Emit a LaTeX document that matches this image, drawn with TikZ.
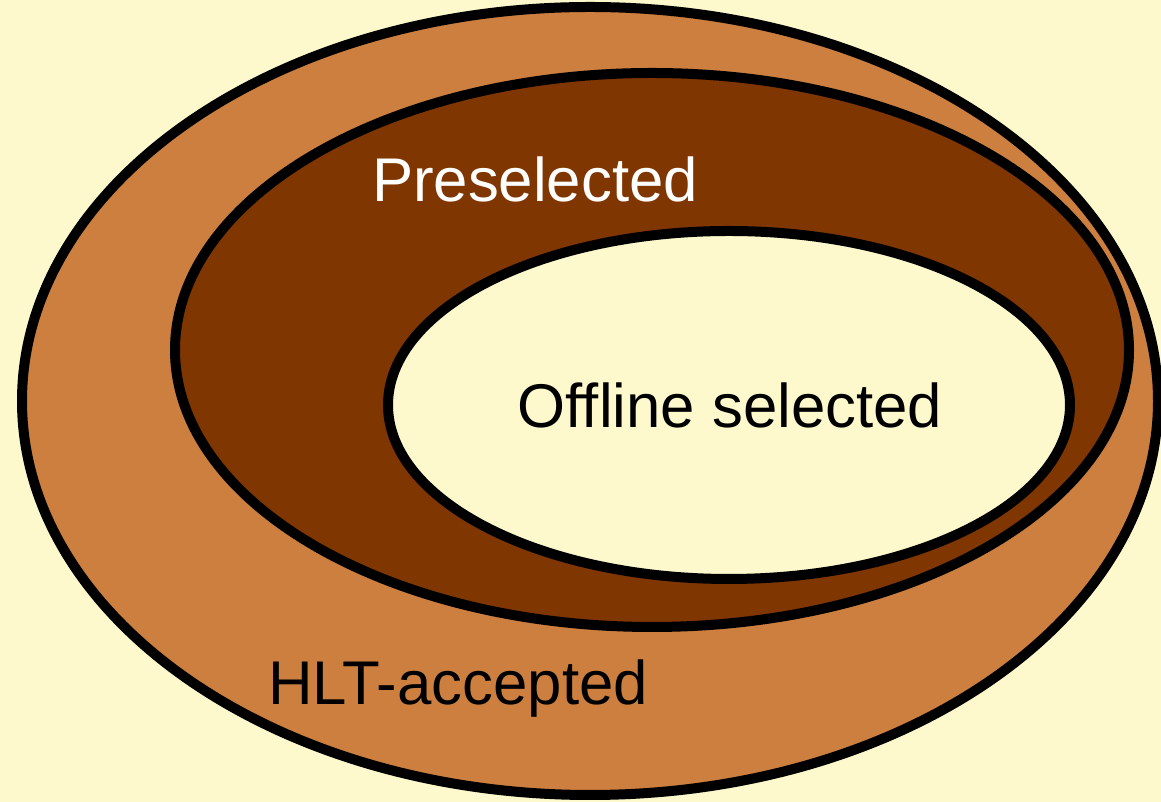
\documentclass[tikz,border=0pt]{standalone}
\usepackage{fontspec}
\setmainfont{Liberation Sans}
\usepackage{xcolor}
\definecolor{paper}{RGB}{253,249,205}
\definecolor{hltcol}{RGB}{204,127,63}
\definecolor{precol}{RGB}{128,54,0}
\tikzset{sel/.style={draw=black, line width=7.5pt},
  lab/.style={anchor=base, font=\fontsize{46.3}{50}\selectfont}}

\begin{document}
\begin{tikzpicture}[x=0.75pt, y=0.75pt]
    %Background
    \fill[paper] (0,0) rectangle (1161,802);
    \useasboundingbox (0,0) rectangle (1161,802);
    %Sets
    \filldraw[sel, fill=hltcol] (590,401) ellipse [x radius=568, y radius=394];
    \filldraw[sel, fill=precol] (652,452) ellipse [x radius=477, y radius=277];
    \filldraw[sel, fill=paper] (729,397) ellipse [x radius=341, y radius=174];
    %Labels
    \node[lab, white] (pre) at (535,600) {Preselected};
    \node[lab] (off) at (730,374) {Offline selected};
    \node[lab] (hlt) at (458,97) {HLT-accepted};
  \end{tikzpicture}
\end{document}
